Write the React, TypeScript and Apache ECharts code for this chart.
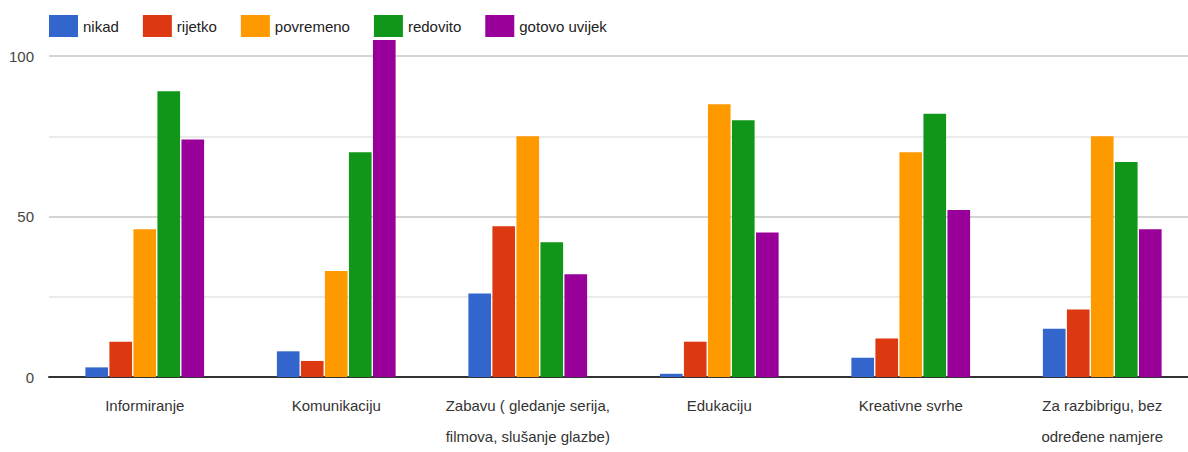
import React, { useEffect, useRef } from "react";
import * as echarts from "echarts";

const categories = [
  "Informiranje",
  "Komunikaciju",
  "Zabavu ( gledanje serija,\nfilmova, slušanje glazbe)",
  "Edukaciju",
  "Kreativne svrhe",
  "Za razbibrigu, bez\nodređene namjere",
];
const seriesNames = ["nikad", "rijetko", "povremeno", "redovito", "gotovo uvijek"];
const nikad = [3, 8, 26, 1, 6, 15];
const rijetko = [11, 5, 47, 11, 12, 21];
const povremeno = [46, 33, 75, 85, 70, 75];
const redovito = [89, 70, 42, 80, 82, 67];
const gotovoUvijek = [74, 105, 32, 45, 52, 46];
const yTicks = [0, 50, 100];
const colors = ["#3366cc", "#dc3912", "#ff9900", "#109618", "#990099"];

export default function App() {
  const ref = useRef<HTMLDivElement>(null);
  useEffect(() => {
    if (!ref.current) return;
    const chart = echarts.init(ref.current, null, { renderer: "svg" });
    const font = "'Liberation Sans', Arial, sans-serif";
    const values = [nikad, rijetko, povremeno, redovito, gotovoUvijek];
    chart.setOption({
      animation: false,
      color: colors,
      textStyle: { fontFamily: font },
      legend: {
        left: 44,
        top: 10,
        icon: "rect",
        itemWidth: 29,
        itemHeight: 22,
        itemGap: 24,
        textStyle: { fontSize: 15, color: "#222", fontFamily: font },
        data: seriesNames,
      },
      grid: { left: 49, right: 12, top: 56, bottom: 71, containLabel: false },
      xAxis: {
        type: "category",
        data: categories,
        axisLine: { show: true, lineStyle: { color: "#333", width: 2 } },
        axisTick: { show: false },
        axisLabel: {
          fontSize: 15,
          color: "#333",
          lineHeight: 31,
          margin: 13,
          interval: 0,
          fontFamily: font,
        },
      },
      yAxis: {
        type: "value",
        min: yTicks[0],
        max: yTicks[yTicks.length - 1],
        interval: 50,
        axisLine: { show: false },
        axisTick: { show: false },
        axisLabel: { fontSize: 15, color: "#444", margin: 15, fontFamily: font },
        splitLine: { show: true, lineStyle: { color: "#d4d4d4", width: 2 } },
        minorTick: { show: false, splitNumber: 2 },
        minorSplitLine: { show: true, lineStyle: { color: "#ebebeb", width: 2 } },
      },
      series: seriesNames.map((name, i) => ({
        name,
        type: "bar",
        data: values[i],
        clip: false,
        barCategoryGap: "38%",
        barGap: "6%",
        itemStyle: { color: colors[i] },
      })),
    });
    return () => chart.dispose();
  }, []);
  return (
    <div style={{ position: "absolute", left: 0, top: 0, width: 1188, height: 452, overflow: "hidden", background: "#fff" }}>
      <div ref={ref} style={{ width: 1210, height: 452 }} />
    </div>
  );
}
